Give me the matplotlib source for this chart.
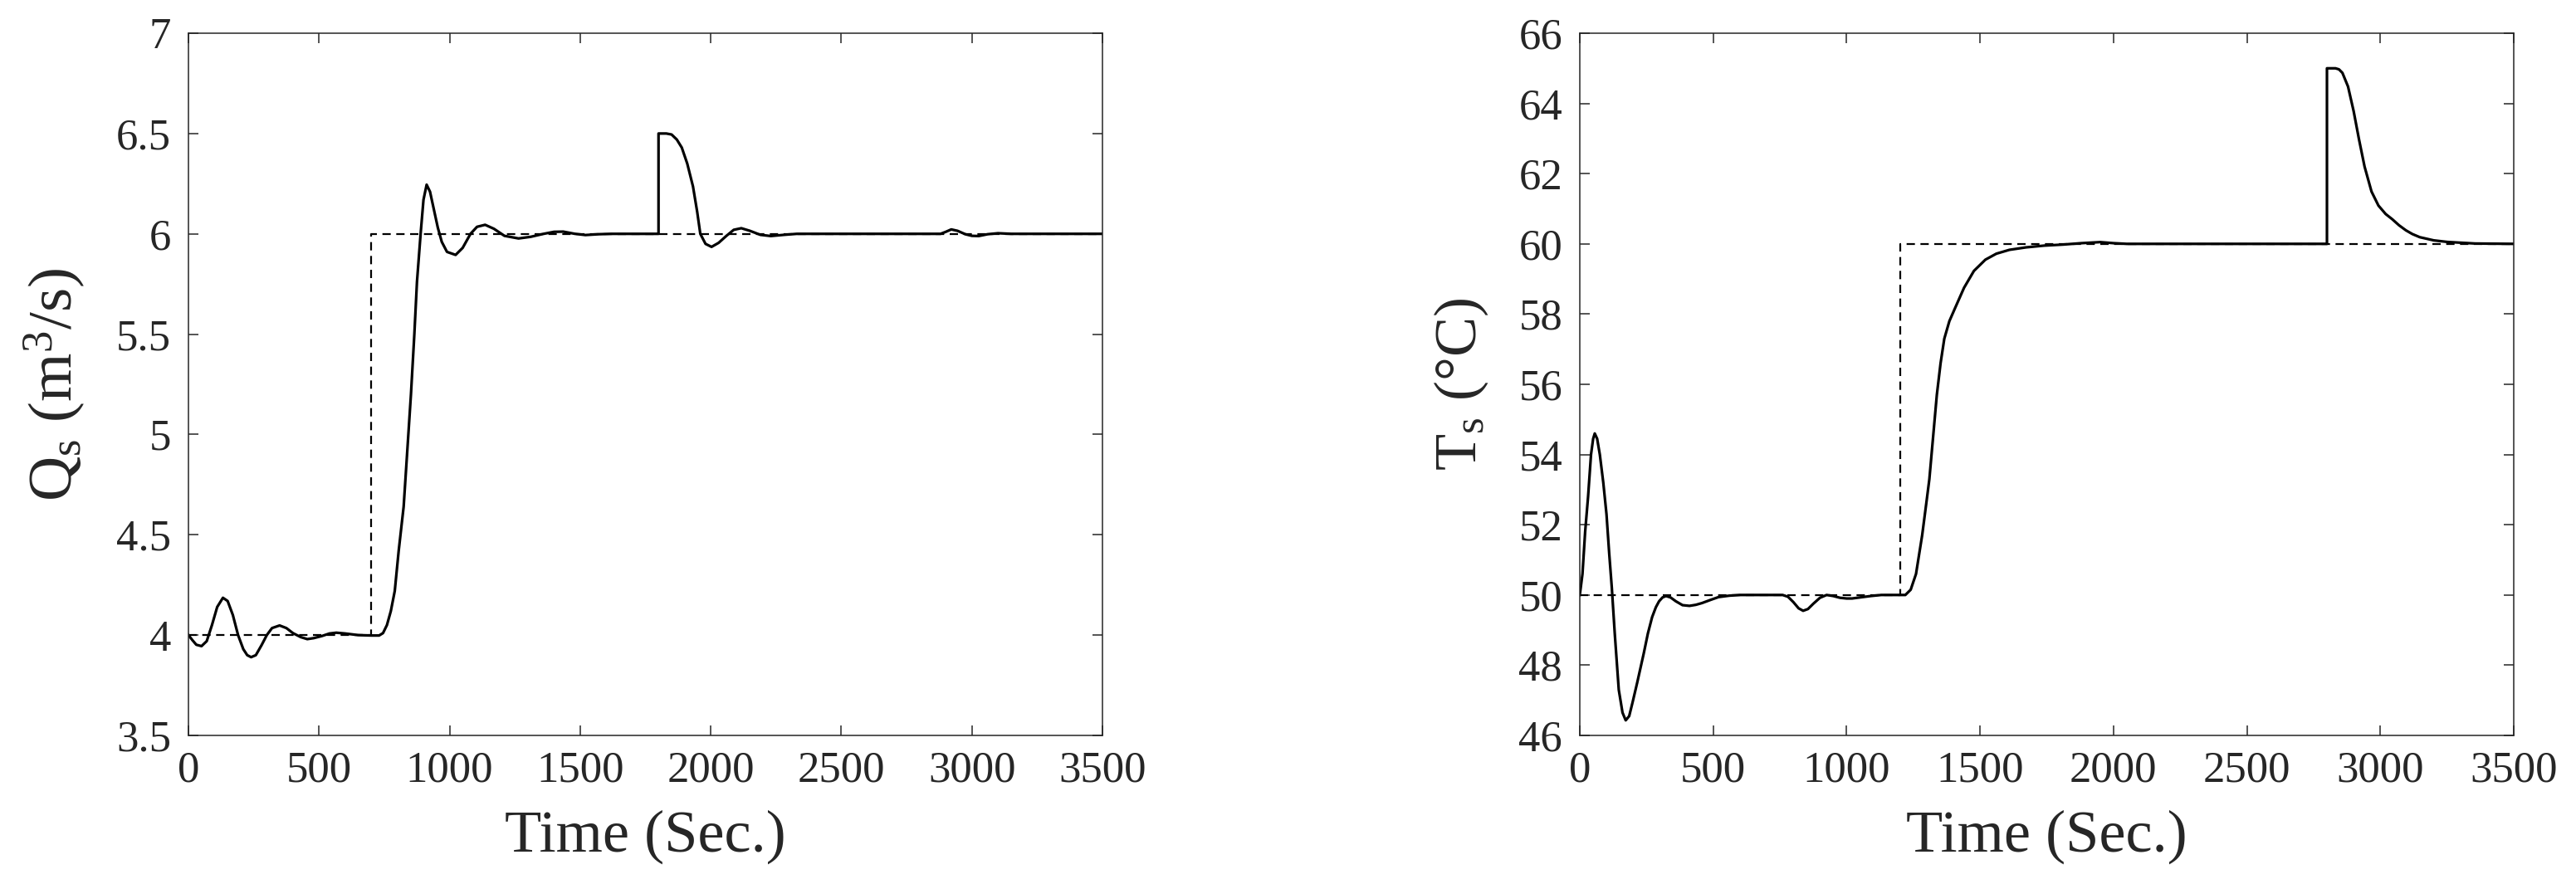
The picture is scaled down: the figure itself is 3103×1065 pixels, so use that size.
import matplotlib
matplotlib.use("Agg")
import matplotlib.pyplot as plt

# --- data ---
x_ticks = [0, 500, 1000, 1500, 2000, 2500, 3000, 3500]
q_yticks = [3.5, 4, 4.5, 5, 5.5, 6, 6.5, 7]
q_ytick_labels = ["3.5", "4", "4.5", "5", "5.5", "6", "6.5", "7"]
t_yticks = [46, 48, 50, 52, 54, 56, 58, 60, 62, 64, 66]
t_ytick_labels = [str(v) for v in t_yticks]

# setpoint for flow (dashed)
q_ref_time = [0, 700, 700, 3500]
q_ref_val = [4, 4, 6, 6]

# measured flow Q_s (solid)
q_time = [0, 15, 30, 50, 70, 90, 110, 132, 150, 170, 190, 210, 225, 240, 258,
          280, 300, 320, 349, 375, 400, 430, 455, 480, 510, 540, 566, 600, 650,
          700, 730, 745, 760, 775, 790, 805, 824, 840, 852, 865, 875, 889, 900,
          912, 925, 940, 955, 970, 990, 1023, 1050, 1080, 1105, 1136, 1170, 1210,
          1264, 1310, 1360, 1400, 1435, 1480, 1520, 1570, 1620, 1800, 1800, 1830,
          1850, 1870, 1889, 1910, 1932, 1948, 1960, 1980, 2003, 2030, 2060, 2088,
          2117, 2150, 2190, 2230, 2280, 2330, 2880, 2900, 2921, 2945, 2975, 3000,
          3026, 3060, 3100, 3150, 3500]
q_val = [4.00, 3.975, 3.952, 3.945, 3.97, 4.05, 4.14, 4.186, 4.17, 4.10, 4.00,
         3.93, 3.90, 3.89, 3.90, 3.95, 4.00, 4.035, 4.048, 4.035, 4.01, 3.99,
         3.98, 3.985, 3.995, 4.008, 4.012, 4.008, 4.0, 3.998, 3.998, 4.01, 4.05,
         4.12, 4.22, 4.42, 4.64, 4.96, 5.20, 5.50, 5.76, 6.00, 6.17, 6.245, 6.21,
         6.12, 6.03, 5.96, 5.91, 5.895, 5.93, 6.00, 6.035, 6.045, 6.025, 5.99,
         5.977, 5.985, 6.00, 6.01, 6.011, 6.0, 5.994, 5.998, 6.0, 6.0, 6.5, 6.5,
         6.495, 6.47, 6.43, 6.35, 6.236, 6.11, 6.0, 5.95, 5.935, 5.955, 5.99,
         6.02, 6.028, 6.015, 5.995, 5.989, 5.995, 6.0, 6.0, 6.01, 6.022, 6.015,
         5.998, 5.99, 5.989, 5.998, 6.003, 6.0, 6.0]

# setpoint for temperature (dashed)
t_ref_time = [0, 1200, 1200, 3500]
t_ref_val = [50, 50, 60, 60]

# measured temperature T_s (solid)
t_time = [0, 10, 20, 31, 42, 50, 56, 65, 75, 88, 100, 110, 120, 131, 146, 160,
          172, 185, 198, 215, 240, 255, 271, 285, 297, 310, 323, 340, 360, 385,
          411, 435, 458, 490, 520, 560, 600, 760, 780, 800, 820, 837, 855, 875,
          900, 925, 950, 975, 1000, 1020, 1050, 1090, 1130, 1220, 1240, 1260,
          1283, 1300, 1310, 1338, 1352, 1366, 1385, 1408, 1440, 1477, 1520, 1561,
          1610, 1672, 1740, 1811, 1880, 1950, 2000, 2050, 2800, 2800, 2832, 2845,
          2858, 2879, 2900, 2920, 2941, 2967, 2993, 3020, 3045, 3070, 3096, 3120,
          3148, 3200, 3251, 3355, 3500]
t_val = [50.0, 50.6, 51.8, 52.8, 54.0, 54.45, 54.6, 54.45, 54.0, 53.2, 52.3,
         51.2, 50.2, 48.9, 47.3, 46.65, 46.43, 46.55, 46.95, 47.5, 48.35, 48.9,
         49.37, 49.65, 49.82, 49.93, 49.97, 49.93, 49.82, 49.71, 49.69, 49.72,
         49.77, 49.86, 49.94, 49.98, 50.0, 50.0, 49.95, 49.8, 49.62, 49.55, 49.6,
         49.75, 49.92, 50.0, 49.97, 49.92, 49.9, 49.9, 49.93, 49.97, 50.0, 50.0,
         50.15, 50.6, 51.7, 52.7, 53.3, 55.7, 56.6, 57.3, 57.8, 58.2, 58.75,
         59.23, 59.55, 59.72, 59.83, 59.9, 59.95, 59.98, 60.02, 60.05, 60.02,
         60.0, 60.0, 65.0, 65.0, 64.97, 64.87, 64.48, 63.78, 62.98, 62.2, 61.49,
         61.09, 60.85, 60.70, 60.53, 60.385, 60.28, 60.19, 60.1, 60.055, 60.01,
         60.0]

plt.rcParams['font.family'] = ['Liberation Serif', 'DejaVu Serif']
plt.rcParams['mathtext.fontset'] = 'custom'
plt.rcParams['mathtext.rm'] = 'Liberation Serif'
plt.rcParams['mathtext.it'] = 'Liberation Serif:italic'

AX_COLOR = '#262626'

fig = plt.figure(figsize=(31.03, 10.65), dpi=100)
ax_q = fig.add_axes([0.07316, 0.16808, 0.35482, 0.79437])
ax_t = fig.add_axes([0.61328, 0.16808, 0.36255, 0.79437])


def style_axis(ax, yticks, ylabels, ylim):
    ax.set_xlim(0, 3500)
    ax.set_ylim(*ylim)
    ax.set_xticks(x_ticks)
    ax.set_xticklabels([str(v) for v in x_ticks])
    ax.set_yticks(yticks)
    ax.set_yticklabels(ylabels)
    for sp in ax.spines.values():
        sp.set_color(AX_COLOR)
        sp.set_linewidth(1.1)
    ax.tick_params(direction='in', top=True, right=True, length=8.5,
                   width=1.1, color=AX_COLOR, labelcolor=AX_COLOR,
                   labelsize=38)
    ax.tick_params(axis='x', pad=13)
    ax.tick_params(axis='y', pad=15)


# left: flow
ax_q.plot(q_ref_time, q_ref_val, color='black', linewidth=1.6,
          linestyle=(0, (4.5, 3)))
ax_q.plot(q_time, q_val, color='black', linewidth=2.3)
style_axis(ax_q, q_yticks, q_ytick_labels, (3.5, 7))
ax_q.set_xlabel('Time (Sec.)', fontsize=52, color=AX_COLOR, va='center')
ax_q.xaxis.set_label_coords(0.5, -0.145)
ax_q.set_ylabel('Q$_{\\mathrm{s}}$ (m$^{3}$/s)', fontsize=54, color=AX_COLOR,
                va='center')
ax_q.yaxis.set_label_coords(-0.146, 0.5)

# right: temperature
ax_t.plot(t_ref_time, t_ref_val, color='black', linewidth=1.6,
          linestyle=(0, (4.5, 3)))
ax_t.plot(t_time, t_val, color='black', linewidth=2.3)
style_axis(ax_t, t_yticks, t_ytick_labels, (46, 66))
ax_t.set_xlabel('Time (Sec.)', fontsize=52, color=AX_COLOR, va='center')
ax_t.xaxis.set_label_coords(0.5, -0.145)
ax_t.set_ylabel('T$_{\\mathrm{s}}$ (°C)', fontsize=52, color=AX_COLOR,
                va='center')
ax_t.yaxis.set_label_coords(-0.127, 0.5)

fig.savefig('out.png', dpi=100)
